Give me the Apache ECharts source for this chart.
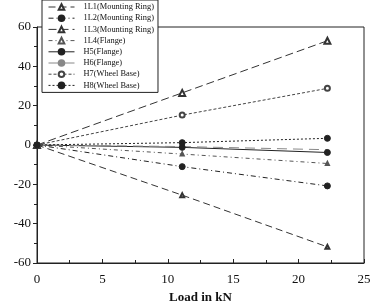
<!DOCTYPE html>
<html><head><meta charset="utf-8">
<script src="https://cdn.jsdelivr.net/npm/echarts@6/dist/echarts.min.js"></script>
<style>html,body{margin:0;padding:0;background:#fff}#c{width:372px;height:308px}</style>
</head><body><div id="c"></div>
<script>
const loads = [0, 11.1, 22.2];
const names = ['1L1(Mounting Ring)','1L2(Mounting Ring)','1L3(Mounting Ring)','1L4(Flange)','H5(Flange)','H6(Flange)','H7(Wheel Base)','H8(Wheel Base)'];
const s1L1 = [0, -25.5, -51.8];
const s1L2 = [0, -11, -20.8];
const s1L3 = [0, 26.5, 53];
const s1L4 = [0, -4.6, -9.4];
const sH5 = [0, -1.2, -3.8];
const sH6 = [0, -0.8, -2.4];
const sH7 = [0, 15.2, 28.8];
const sH8 = [0, 1.2, 3.4];
const xTicks = [0, 5, 10, 15, 20, 25];
const yTicks = [-60, -40, -20, 0, 20, 40, 60];

const values = [s1L1, s1L2, s1L3, s1L4, sH5, sH6, sH7, sH8];
const styles = [
  {type:[7,4], color:'#333', sym:'emptyTriangle', ss:4},
  {type:[5,3,1,3], color:'#222', sym:'circle', ss:6},
  {type:[8,4], color:'#333', sym:'emptyTriangle', ss:6},
  {type:[4,3,1,3], color:'#555', sym:'emptyTriangle', ss:3},
  {type:'solid', color:'#222', sym:'circle', ss:6},
  {type:[10,6], color:'#888', sym:'none', ss:0},
  {type:[3,2], color:'#444', sym:'emptyCircle', ss:5},
  {type:[2,2], color:'#222', sym:'circle', ss:6}
];
const serif = 'Liberation Serif';
const series = values.map((v, i) => {
  const st = styles[i];
  return {
    name: names[i], type: 'line',
    data: loads.map((x, j) => [x, v[j]]),
    symbol: st.sym,
    symbolSize: st.ss,
    showAllSymbol: true,
    lineStyle: {color: st.color, width: 1, type: st.type},
    itemStyle: {color: st.color, borderColor: st.color, borderWidth: 1},
    animation: false, z: 3
  };
});
const chart = echarts.init(document.getElementById('c'), null, {renderer: 'canvas'});
chart.setOption({
  animation: false,
  grid: {left: 37, right: 8, top: 27, bottom: 45, show: true, borderColor: '#222', borderWidth: 1, backgroundColor: 'transparent', outerBoundsMode: 'none', containLabel: false},
  legend: {
    orient: 'vertical', left: 42, top: 0, itemGap: 3.2, itemWidth: 26, itemHeight: 7,
    backgroundColor: '#fff', borderColor: '#222', borderWidth: 1, padding: [3, 4, 3, 6],
    lineStyle: {width: 1},
    textStyle: {fontFamily: serif, fontSize: 8.4, color: '#111', padding: [0, 0, 0, 4]},
    data: names
  },
  xAxis: {
    type: 'value', min: 0, max: 25, interval: 5,
    name: 'Load in kN', nameLocation: 'middle', nameGap: 26,
    nameTextStyle: {fontFamily: serif, fontWeight: 'bold', fontSize: 13, color: '#111'},
    axisLine: {show: true, onZero: false, lineStyle: {color: '#222'}},
    axisTick: {show: true, inside: true, length: 4, lineStyle: {color: '#222'}},
    minorTick: {show: true, splitNumber: 2, length: 3, lineStyle: {color: '#222'}},
    axisLabel: {fontFamily: serif, fontSize: 13, color: '#111', margin: 10, formatter: v => xTicks.includes(v) ? String(v) : ''},
    splitLine: {show: false}
  },
  yAxis: {
    type: 'value', min: -60, max: 60, interval: 20,
    name: 'Microstrain', nameLocation: 'middle', nameGap: 29, nameRotate: 90,
    nameTextStyle: {fontFamily: serif, fontWeight: 'bold', fontSize: 13, color: '#111'},
    axisLine: {show: true, onZero: false, lineStyle: {color: '#222'}},
    axisTick: {show: true, inside: false, length: 4, lineStyle: {color: '#222'}},
    minorTick: {show: true, splitNumber: 2, length: 3, lineStyle: {color: '#222'}},
    axisLabel: {fontFamily: serif, fontSize: 13, color: '#111', margin: 6, formatter: v => yTicks.includes(v) ? String(v) : ''},
    splitLine: {show: false}
  },
  series: series
});
</script></body></html>
